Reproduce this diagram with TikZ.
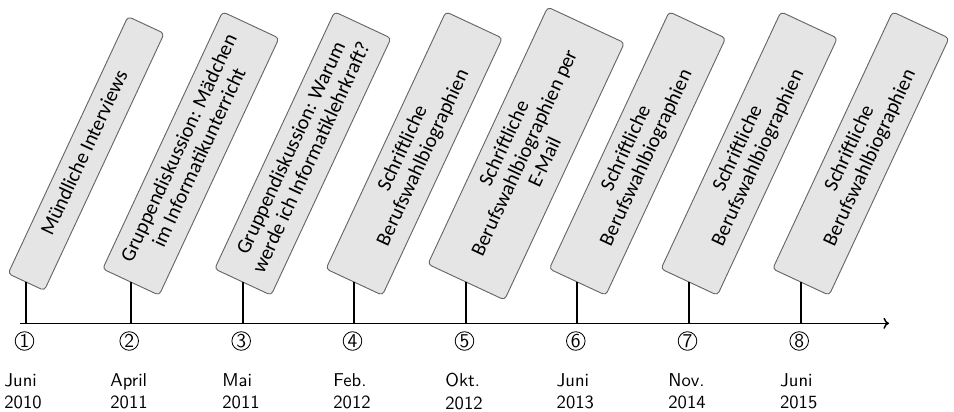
\documentclass[tikz,border=0pt]{standalone}
\usepackage{fontspec}
\newfontfamily\boxfont{Carlito}
\usetikzlibrary{arrows.meta}
\begin{document}
\begin{tikzpicture}[x=0.5376pt,y=-0.5376pt,
  event/.style={draw=black!60, fill=black!10, rounded corners=2pt, rotate=65,
    anchor=west, text width=143pt, align=flush center, inner sep=4.75pt,
    font=\boxfont\fontsize{11}{12}\selectfont, line width=0.5pt,
    execute at begin node={\hyphenpenalty=10000\exhyphenpenalty=10000\strut},
    execute at end node=\strut},
  tickline/.style={line width=1.2pt},
  axisline/.style={line width=0.8pt, -{To[length=3pt,width=6pt]}},
  numlabel/.style={circle, draw, line width=0.45pt, minimum size=10pt,
    inner sep=0pt, font=\sffamily\fontsize{10.5}{12}\selectfont},
  datelabel/.style={font=\sffamily, align=left, anchor=north, inner sep=0pt}]
\useasboundingbox (0,0) rectangle (954,412);

\coordinate (s) at (20,323.3);
\coordinate (e) at (889,323.3);
\draw[axisline] (s) -- (e);

\foreach \i/\x in {1/26,2/130.7,3/242.7,4/354,5/466,6/577.3,7/689,8/800.7}{
  \coordinate (a\i) at (\x,323.3);
  \coordinate (t\i) at (\x,282.5);
}

\node[event] (b1) at (t1) {Mündliche Interviews};
\node[event] (b2) at (t2) {Gruppendiskussion: Mädchen im Informatikunterricht};
\node[event] (b3) at (t3) {Gruppendiskussion: Warum werde ich Informatiklehrkraft?};
\node[event] (b4) at (t4) {Schriftliche Berufswahlbiographien};
\node[event] (b5) at (t5) {Schriftliche Berufswahlbiographien per E-Mail};
\node[event] (b6) at (t6) {Schriftliche Berufswahlbiographien};
\node[event] (b7) at (t7) {Schriftliche Berufswahlbiographien};
\node[event] (b8) at (t8) {Schriftliche Berufswahlbiographien};

\foreach \i in {1,...,8}{
  \draw[tickline] (a\i) -- (b\i.west);
}

\node[numlabel] (n1) at (24.5,341) {1};
\node[numlabel] (n2) at (129.2,341) {2};
\node[numlabel] (n3) at (241.2,341) {3};
\node[numlabel] (n4) at (352.5,341) {4};
\node[numlabel] (n5) at (464.5,341) {5};
\node[numlabel] (n6) at (575.8,341) {6};
\node[numlabel] (n7) at (687.5,341) {7};
\node[numlabel] (n8) at (799.2,341) {8};

\node[datelabel] (d1) at (23,373) {Juni\\2010};
\node[datelabel] (d2) at (129,373) {April\\2011};
\node[datelabel] (d3) at (241,373) {Mai\\2011};
\node[datelabel] (d4) at (352,373) {Feb.\\2012};
\node[datelabel] (d5) at (464,373) {Okt.\\2012};
\node[datelabel] (d6) at (575.3,373) {Juni\\2013};
\node[datelabel] (d7) at (687,373) {Nov.\\2014};
\node[datelabel] (d8) at (798.7,373) {Juni\\2015};
\end{tikzpicture}
\end{document}
